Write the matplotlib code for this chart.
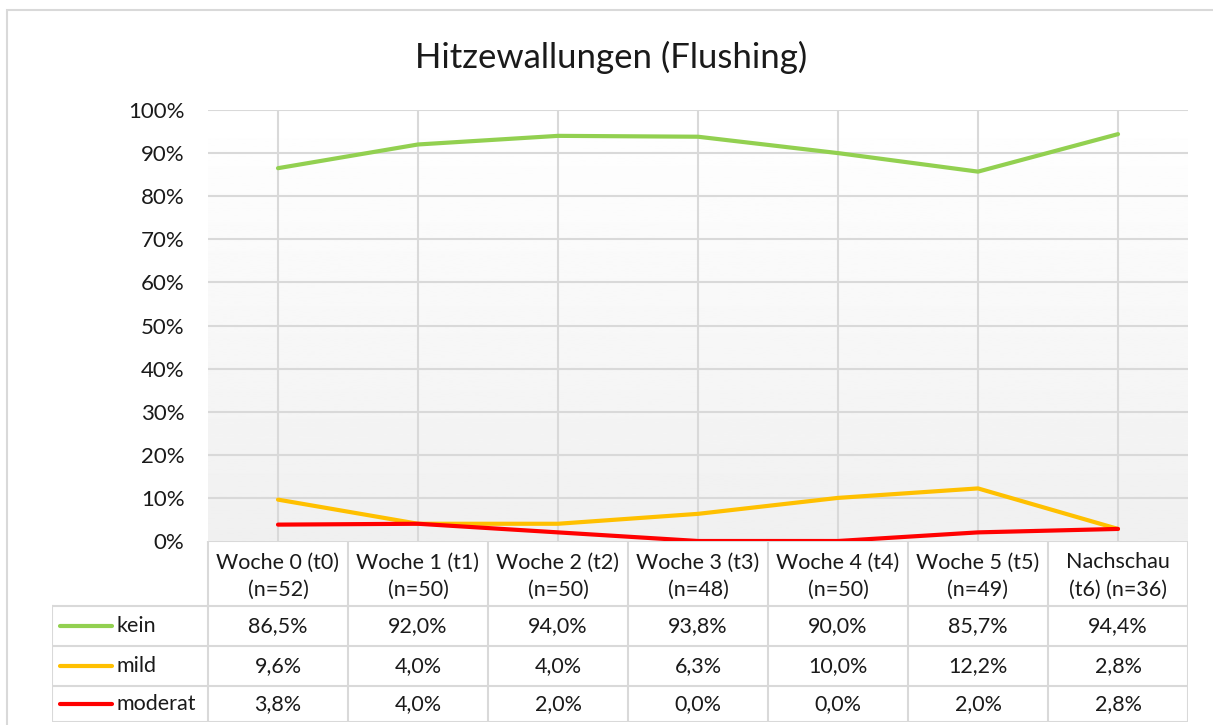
import numpy as np
import matplotlib
matplotlib.use("Agg")
import matplotlib.pyplot as plt

# data
categories = ["Woche 0 (t0)\n(n=52)", "Woche 1 (t1)\n(n=50)", "Woche 2 (t2)\n(n=50)",
              "Woche 3 (t3)\n(n=48)", "Woche 4 (t4)\n(n=50)", "Woche 5 (t5)\n(n=49)",
              "Nachschau\n(t6) (n=36)"]
kein = [86.5, 92.0, 94.0, 93.8, 90.0, 85.7, 94.4]
mild = [9.6, 4.0, 4.0, 6.3, 10.0, 12.2, 2.8]
moderat = [3.8, 4.0, 2.0, 0.0, 0.0, 2.0, 2.8]
series_names = ["kein", "mild", "moderat"]
colors = ["#92d050", "#ffc000", "#ff0000"]
title = "Hitzewallungen (Flushing)"

plt.rcParams['font.family'] = ['Lato', 'DejaVu Sans']
W, H = 1213, 725
fig = plt.figure(figsize=(W / 100, H / 100), dpi=100)
grid_col = "#d9d9d9"
txt_col = "#1a1a1a"
fs = 15.5

def px_box(x0, y0, x1, y1):
    return [x0 / W, 1 - y1 / H, (x1 - x0) / W, (y1 - y0) / H]

# outer chart border
fig.add_artist(plt.Rectangle((7 / W, -0.01), 1.1, 1 - 10 / H + 0.01, transform=fig.transFigure,
                             fill=False, edgecolor=grid_col, linewidth=1.5))

fig.text(611 / W, 1 - 57 / H, title, ha="center", va="center", fontsize=25, color=txt_col)

# main plot area
ax = fig.add_axes(px_box(208, 110, 1188, 541))
n = len(categories)
x = np.arange(n)
grad = np.linspace(1.0, 0.94, 256).reshape(-1, 1)
ax.imshow(grad, cmap="gray", vmin=0, vmax=1, aspect="auto", extent=[-0.5, n - 0.5, 0, 100],
          zorder=0, origin="upper")
ax.set_xlim(-0.5, n - 0.5)
ax.set_ylim(0, 100)
ax.set_yticks(np.arange(0, 101, 10))
ax.set_yticklabels([f"{v}%" for v in range(0, 101, 10)], fontsize=16, color=txt_col)
ax.set_xticks([])
for v in range(10, 101, 10):
    ax.axhline(v, color=grid_col, linewidth=1.5, zorder=1)
for xi in x:
    ax.axvline(xi, color=grid_col, linewidth=1.5, zorder=1)
for s in ax.spines.values():
    s.set_visible(False)
ax.tick_params(axis="y", length=0, pad=17)

for vals, c in zip([kein, mild, moderat], colors):
    ax.plot(x, vals, color=c, linewidth=3, solid_capstyle="round", zorder=3)

# data table
tab = fig.add_axes(px_box(52, 541, 1188, 722))
left = -0.5 - 156 / 140
tab.set_xlim(left, n - 0.5)
tab.set_ylim(181, 0)
tab.axis("off")
row_edges = [0, 65, 105, 145, 181]
col_edges = list(np.arange(n + 1) - 0.5)
lw = 1.5
# header row borders
tab.plot([col_edges[0], col_edges[-1]], [0, 0], color=grid_col, lw=lw)
for ce in col_edges:
    tab.plot([ce, ce], [0, 65], color=grid_col, lw=lw)
# body borders
for re in row_edges[1:]:
    tab.plot([left, col_edges[-1]], [re, re], color=grid_col, lw=lw)
for ce in [left] + col_edges:
    tab.plot([ce, ce], [65, 181], color=grid_col, lw=lw)

for i, lab in enumerate(categories):
    tab.text(i, 35, lab, ha="center", va="center", fontsize=fs, color=txt_col, linespacing=1.45)

data_rows = [kein, mild, moderat]
for r, (name, vals, c) in enumerate(zip(series_names, data_rows, colors)):
    yc = (row_edges[r + 1] + row_edges[r + 2]) / 2
    tab.plot([left + 0.06, left + 0.43], [yc, yc], color=c, lw=3, solid_capstyle="round")
    tab.text(left + 0.46, yc, name, ha="left", va="center", fontsize=fs, color=txt_col)
    for i, v in enumerate(vals):
        tab.text(i, yc, f"{v:.1f}%".replace(".", ","), ha="center", va="center",
                 fontsize=fs, color=txt_col)

fig.savefig("out.png", dpi=100)
